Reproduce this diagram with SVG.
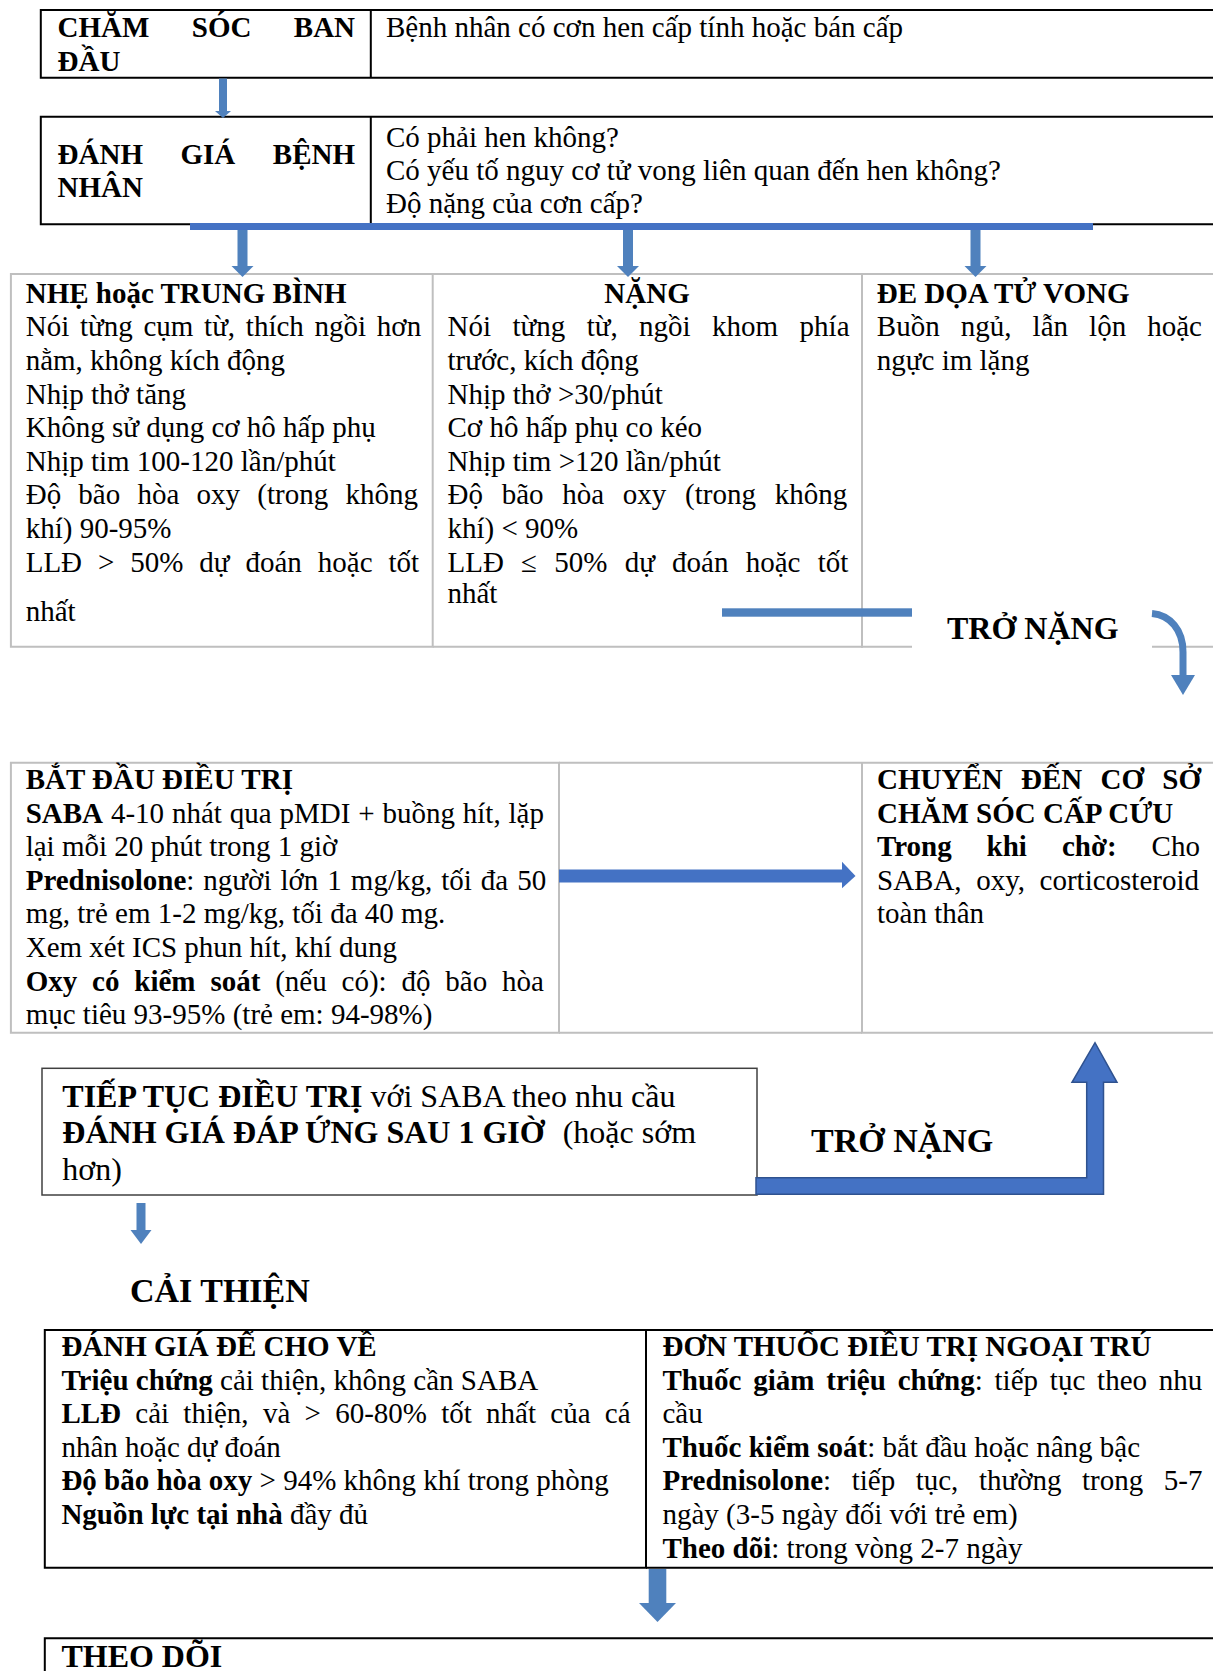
<svg xmlns="http://www.w3.org/2000/svg" width="1213" height="1671" viewBox="0 0 1213 1671">
<style>
text{font-family:"Liberation Serif","Times New Roman","DejaVu Serif",serif;font-size:29px;fill:#000}
.b{font-weight:bold}
.g{stroke:#BFBFBF;stroke-width:2;fill:none}
.k{stroke:#000;stroke-width:2;fill:none}
.d{stroke:#404040;stroke-width:1.5;fill:none}
.a1{fill:#4F81BD}
.a2{fill:#4472C4}
.lg{font-size:32px}
.xl{font-size:34px}
</style>
<rect width="1213" height="1671" fill="#fff"/>

<g id="cham-soc-ban-dau">
<path class="k" d="M1213,10 H40.8 V77.7 H1213 M370.8,10 V77.7"/>
<text class="b" y="36.7"><tspan x="57.6">CHĂM</tspan><tspan x="191.8">SÓC</tspan><tspan x="293.8">BAN</tspan></text>
<text class="b" x="57.6" y="71">ĐẦU</text>
<text x="386" y="36.7">Bệnh nhân có cơn hen cấp tính hoặc bán cấp</text>
</g>

<g id="danh-gia-benh-nhan">
<path class="k" d="M1213,116.7 H40.8 V224.3 H1213 M370.8,116.7 V224.3"/>
<text class="b" y="164.3"><tspan x="57.6">ĐÁNH</tspan><tspan x="180.5">GIÁ</tspan><tspan x="272.8">BỆNH</tspan></text>
<text class="b" x="57.6" y="197.3">NHÂN</text>
<text x="386" y="147">Có phải hen không?</text>
<text x="386" y="180">Có yếu tố nguy cơ tử vong liên quan đến hen không?</text>
<text x="386" y="213">Độ nặng của cơn cấp?</text>
</g>

<g id="nhe-trung-binh">
<path class="g" d="M10.9,274 H432.7 V646.7 H10.9 Z"/>
<text class="b" x="25.7" y="302.7">NHẸ hoặc TRUNG BÌNH</text>
<text x="25.7" y="336.3" style="word-spacing:3.48px">Nói từng cụm từ, thích ngồi hơn</text>
<text x="25.7" y="369.9">nằm, không kích động</text>
<text x="25.7" y="403.5">Nhịp thở tăng</text>
<text x="25.7" y="437.1">Không sử dụng cơ hô hấp phụ</text>
<text x="25.7" y="470.7">Nhịp tim 100-120 lần/phút</text>
<text x="25.7" y="504.3" style="word-spacing:9.99px">Độ bão hòa oxy (trong không</text>
<text x="25.7" y="537.9">khí) 90-95%</text>
<text x="25.7" y="571.5" style="word-spacing:8.67px">LLĐ &gt; 50% dự đoán hoặc tốt</text>
<text x="25.7" y="620.7">nhất</text>
</g>

<g id="nang">
<path class="g" d="M432.7,274 H862 V646.7 H432.7"/>
<text class="b" x="647" y="302.7" text-anchor="middle">NẶNG</text>
<text x="447.5" y="336.3" style="word-spacing:14.19px">Nói từng từ, ngồi khom phía</text>
<text x="447.5" y="369.9">trước, kích động</text>
<text x="447.5" y="403.5">Nhịp thở &gt;30/phút</text>
<text x="447.5" y="437.1">Cơ hô hấp phụ co kéo</text>
<text x="447.5" y="470.7">Nhịp tim &gt;120 lần/phút</text>
<text x="447.5" y="504.3" style="word-spacing:11.47px">Độ bão hòa oxy (trong không</text>
<text x="447.5" y="537.9">khí) &lt; 90%</text>
<text x="447.5" y="571.5" style="word-spacing:9.98px">LLĐ ≤ 50% dự đoán hoặc tốt</text>
<text x="447.5" y="603.3">nhất</text>
</g>

<g id="de-doa-tu-vong">
<path class="g" d="M862,274 H1213 M862,274 V646.7 H912 M1152,646.7 H1213"/>
<text class="b" x="876.8" y="302.7">ĐE DỌA TỬ VONG</text>
<text x="876.8" y="336.3" style="word-spacing:13.84px">Buồn ngủ, lẫn lộn hoặc</text>
<text x="876.8" y="369.9">ngực im lặng</text>
</g>

<g id="bat-dau-dieu-tri">
<path class="g" d="M559,762.7 H10.9 V1032.7 H559 Z"/>
<text class="b" x="25.7" y="789">BẮT ĐẦU ĐIỀU TRỊ</text>
<text x="25.7" y="822.6" style="word-spacing:0.61px"><tspan class="b">SABA</tspan> 4-10 nhát qua pMDI + buồng hít, lặp</text>
<text x="25.7" y="856.2">lại mỗi 20 phút trong 1 giờ</text>
<text x="25.7" y="889.8" style="word-spacing:1.75px"><tspan class="b">Prednisolone</tspan>: người lớn 1 mg/kg, tối đa 50</text>
<text x="25.7" y="923.4">mg, trẻ em 1-2 mg/kg, tối đa 40 mg.</text>
<text x="25.7" y="957">Xem xét ICS phun hít, khí dung</text>
<text x="25.7" y="990.6" style="word-spacing:7.6px"><tspan class="b">Oxy có kiểm soát</tspan> (nếu có): độ bão hòa</text>
<text x="25.7" y="1024.2">mục tiêu 93-95% (trẻ em: 94-98%)</text>
</g>

<g id="o-trong">
<path class="g" d="M559,762.7 H862 M559,1032.7 H862"/>
</g>

<g id="chuyen-den-co-so-cap-cuu">
<path class="g" d="M862,762.7 H1213 M862,762.7 V1032.7 H1213"/>
<text class="b" x="877" y="789" style="word-spacing:11.05px">CHUYỂN ĐẾN CƠ SỞ</text>
<text class="b" x="877" y="822.6">CHĂM SÓC CẤP CỨU</text>
<text x="877" y="856.2" style="word-spacing:27.7px"><tspan class="b">Trong khi chờ:</tspan> Cho</text>
<text x="877" y="889.8" style="word-spacing:7.3px">SABA, oxy, corticosteroid</text>
<text x="877" y="923.4">toàn thân</text>
</g>

<g id="tiep-tuc-dieu-tri">
<rect class="d" x="42" y="1068.3" width="715" height="126.7"/>
<text class="lg" x="62.3" y="1106.7"><tspan class="b">TIẾP TỤC ĐIỀU TRỊ</tspan> với SABA theo nhu cầu</text>
<text class="lg" x="62.3" y="1143.3"><tspan class="b">ĐÁNH GIÁ ĐÁP ỨNG SAU 1 GIỜ</tspan><tspan dx="10"> (hoặc sớm</tspan></text>
<text class="lg" x="62.3" y="1180">hơn)</text>
</g>

<g id="danh-gia-de-cho-ve">
<path class="k" d="M646,1330 H44.8 V1567.7 H646 Z"/>
<text class="b" x="61.4" y="1356">ĐÁNH GIÁ ĐỂ CHO VỀ</text>
<text x="61.4" y="1389.6"><tspan class="b">Triệu chứng</tspan> cải thiện, không cần SABA</text>
<text x="61.4" y="1423.2" style="word-spacing:7.02px"><tspan class="b">LLĐ</tspan> cải thiện, và &gt; 60-80% tốt nhất của cá</text>
<text x="61.4" y="1456.8">nhân hoặc dự đoán</text>
<text x="61.4" y="1490.4"><tspan class="b">Độ bão hòa oxy</tspan> &gt; 94% không khí trong phòng</text>
<text x="61.4" y="1524"><tspan class="b">Nguồn lực tại nhà</tspan> đầy đủ</text>
</g>

<g id="don-thuoc-ngoai-tru">
<path class="k" d="M646,1330 H1213 M646,1567.7 H1213"/>
<text class="b" x="662.5" y="1356">ĐƠN THUỐC ĐIỀU TRỊ NGOẠI TRÚ</text>
<text x="662.5" y="1389.6" style="word-spacing:4.55px"><tspan class="b">Thuốc giảm triệu chứng</tspan>: tiếp tục theo nhu</text>
<text x="662.5" y="1423.2">cầu</text>
<text x="662.5" y="1456.8"><tspan class="b">Thuốc kiểm soát</tspan>: bắt đầu hoặc nâng bậc</text>
<text x="662.5" y="1490.4" style="word-spacing:13.27px"><tspan class="b">Prednisolone</tspan>: tiếp tục, thường trong 5-7</text>
<text x="662.5" y="1524">ngày (3-5 ngày đối với trẻ em)</text>
<text x="662.5" y="1557.6"><tspan class="b">Theo dõi</tspan>: trong vòng 2-7 ngày</text>
</g>

<g id="theo-doi">
<path class="k" d="M1213,1638.3 H44.8 V1671"/>
<text class="b lg" x="61.4" y="1666.7">THEO DÕI</text>
</g>

<g id="connectors">
<rect class="a1" x="219" y="78.5" width="8" height="33.5"/>
<polygon class="a1" points="215,111 231,111 223,118"/>
<rect class="a2" x="190" y="223" width="903" height="7"/>
<rect class="a1" x="237.5" y="230" width="10" height="37"/>
<polygon class="a1" points="231.5,266 253.5,266 242.5,277"/>
<rect class="a1" x="623" y="230" width="10" height="37"/>
<polygon class="a1" points="617,266 639,266 628,277"/>
<rect class="a1" x="970.5" y="230" width="10" height="37"/>
<polygon class="a1" points="964.5,266 986.5,266 975.5,277"/>
<rect class="a1" x="722" y="608.3" width="190" height="8.4"/>
<path d="M1152,613.5 C1170,615 1183,630 1183,652 L1183,677" fill="none" stroke="#4F81BD" stroke-width="7"/>
<polygon class="a1" points="1171,675 1195,675 1183,695"/>
<rect class="a2" x="559" y="869.5" width="284" height="13"/>
<polygon class="a2" points="842,861.7 855.5,876 842,888.3"/>
<polygon class="a2" points="756,1177.7 1086.7,1177.7 1086.7,1082.3 1072,1082.3 1095,1042.7 1117,1082.3 1103.5,1082.3 1103.5,1194.3 756,1194.3" stroke="#2F528F" stroke-width="1.5"/>
<rect class="a1" x="136.5" y="1203" width="9" height="28"/>
<polygon class="a1" points="130.5,1230 151.5,1230 141,1244"/>
<rect class="a1" x="648.7" y="1569" width="17.6" height="35"/>
<polygon class="a1" points="639,1603 676,1603 657.5,1622"/>
</g>

<g id="nhan">
<text class="b lg" x="947" y="639">TRỞ NẶNG</text>
<text class="b xl" x="811" y="1151.7">TRỞ NẶNG</text>
<text class="b xl" x="130" y="1301.7">CẢI THIỆN</text>
</g>
</svg>
